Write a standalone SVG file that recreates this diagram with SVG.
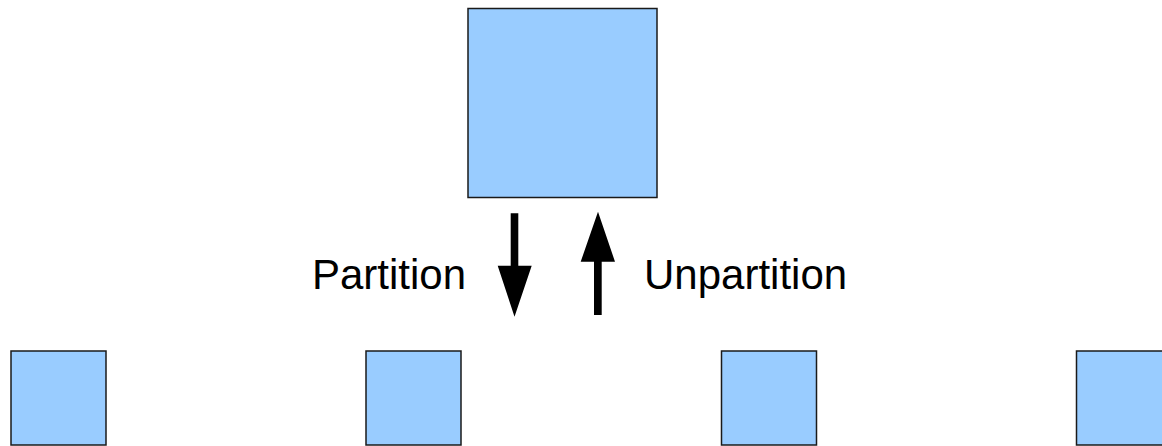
<svg xmlns="http://www.w3.org/2000/svg" width="1162" height="446" viewBox="0 0 1162 446">
<style>
.box{fill:#99ccff;stroke:#1a1a1a;stroke-width:1.5}
.lbl{font-family:"Liberation Sans",Arial,sans-serif;font-size:42px;fill:#000}
.arr{fill:#000}
</style>
<rect width="1162" height="446" fill="#fff"/>
<g id="whole"><rect class="box" x="468" y="8.5" width="189" height="189"/></g>
<g id="part1"><rect class="box" x="11" y="351" width="95" height="94"/></g>
<g id="part2"><rect class="box" x="366" y="351" width="95" height="94"/></g>
<g id="part3"><rect class="box" x="721.5" y="351" width="95" height="94"/></g>
<g id="part4"><rect class="box" x="1076.5" y="351" width="95" height="94"/></g>
<g id="connectors">
<path class="arr" d="M510.7,213.3 H518.3 V265.7 H531.7 L514.5,316.7 L497.7,265.7 H510.7 Z"/>
<path class="arr" d="M594,315 H601.7 V261.7 H615 L598,211.7 L580.7,261.7 H594 Z"/>
</g>
<text class="lbl" x="312" y="289">Partition</text>
<text class="lbl" x="644" y="289">Unpartition</text>
</svg>
